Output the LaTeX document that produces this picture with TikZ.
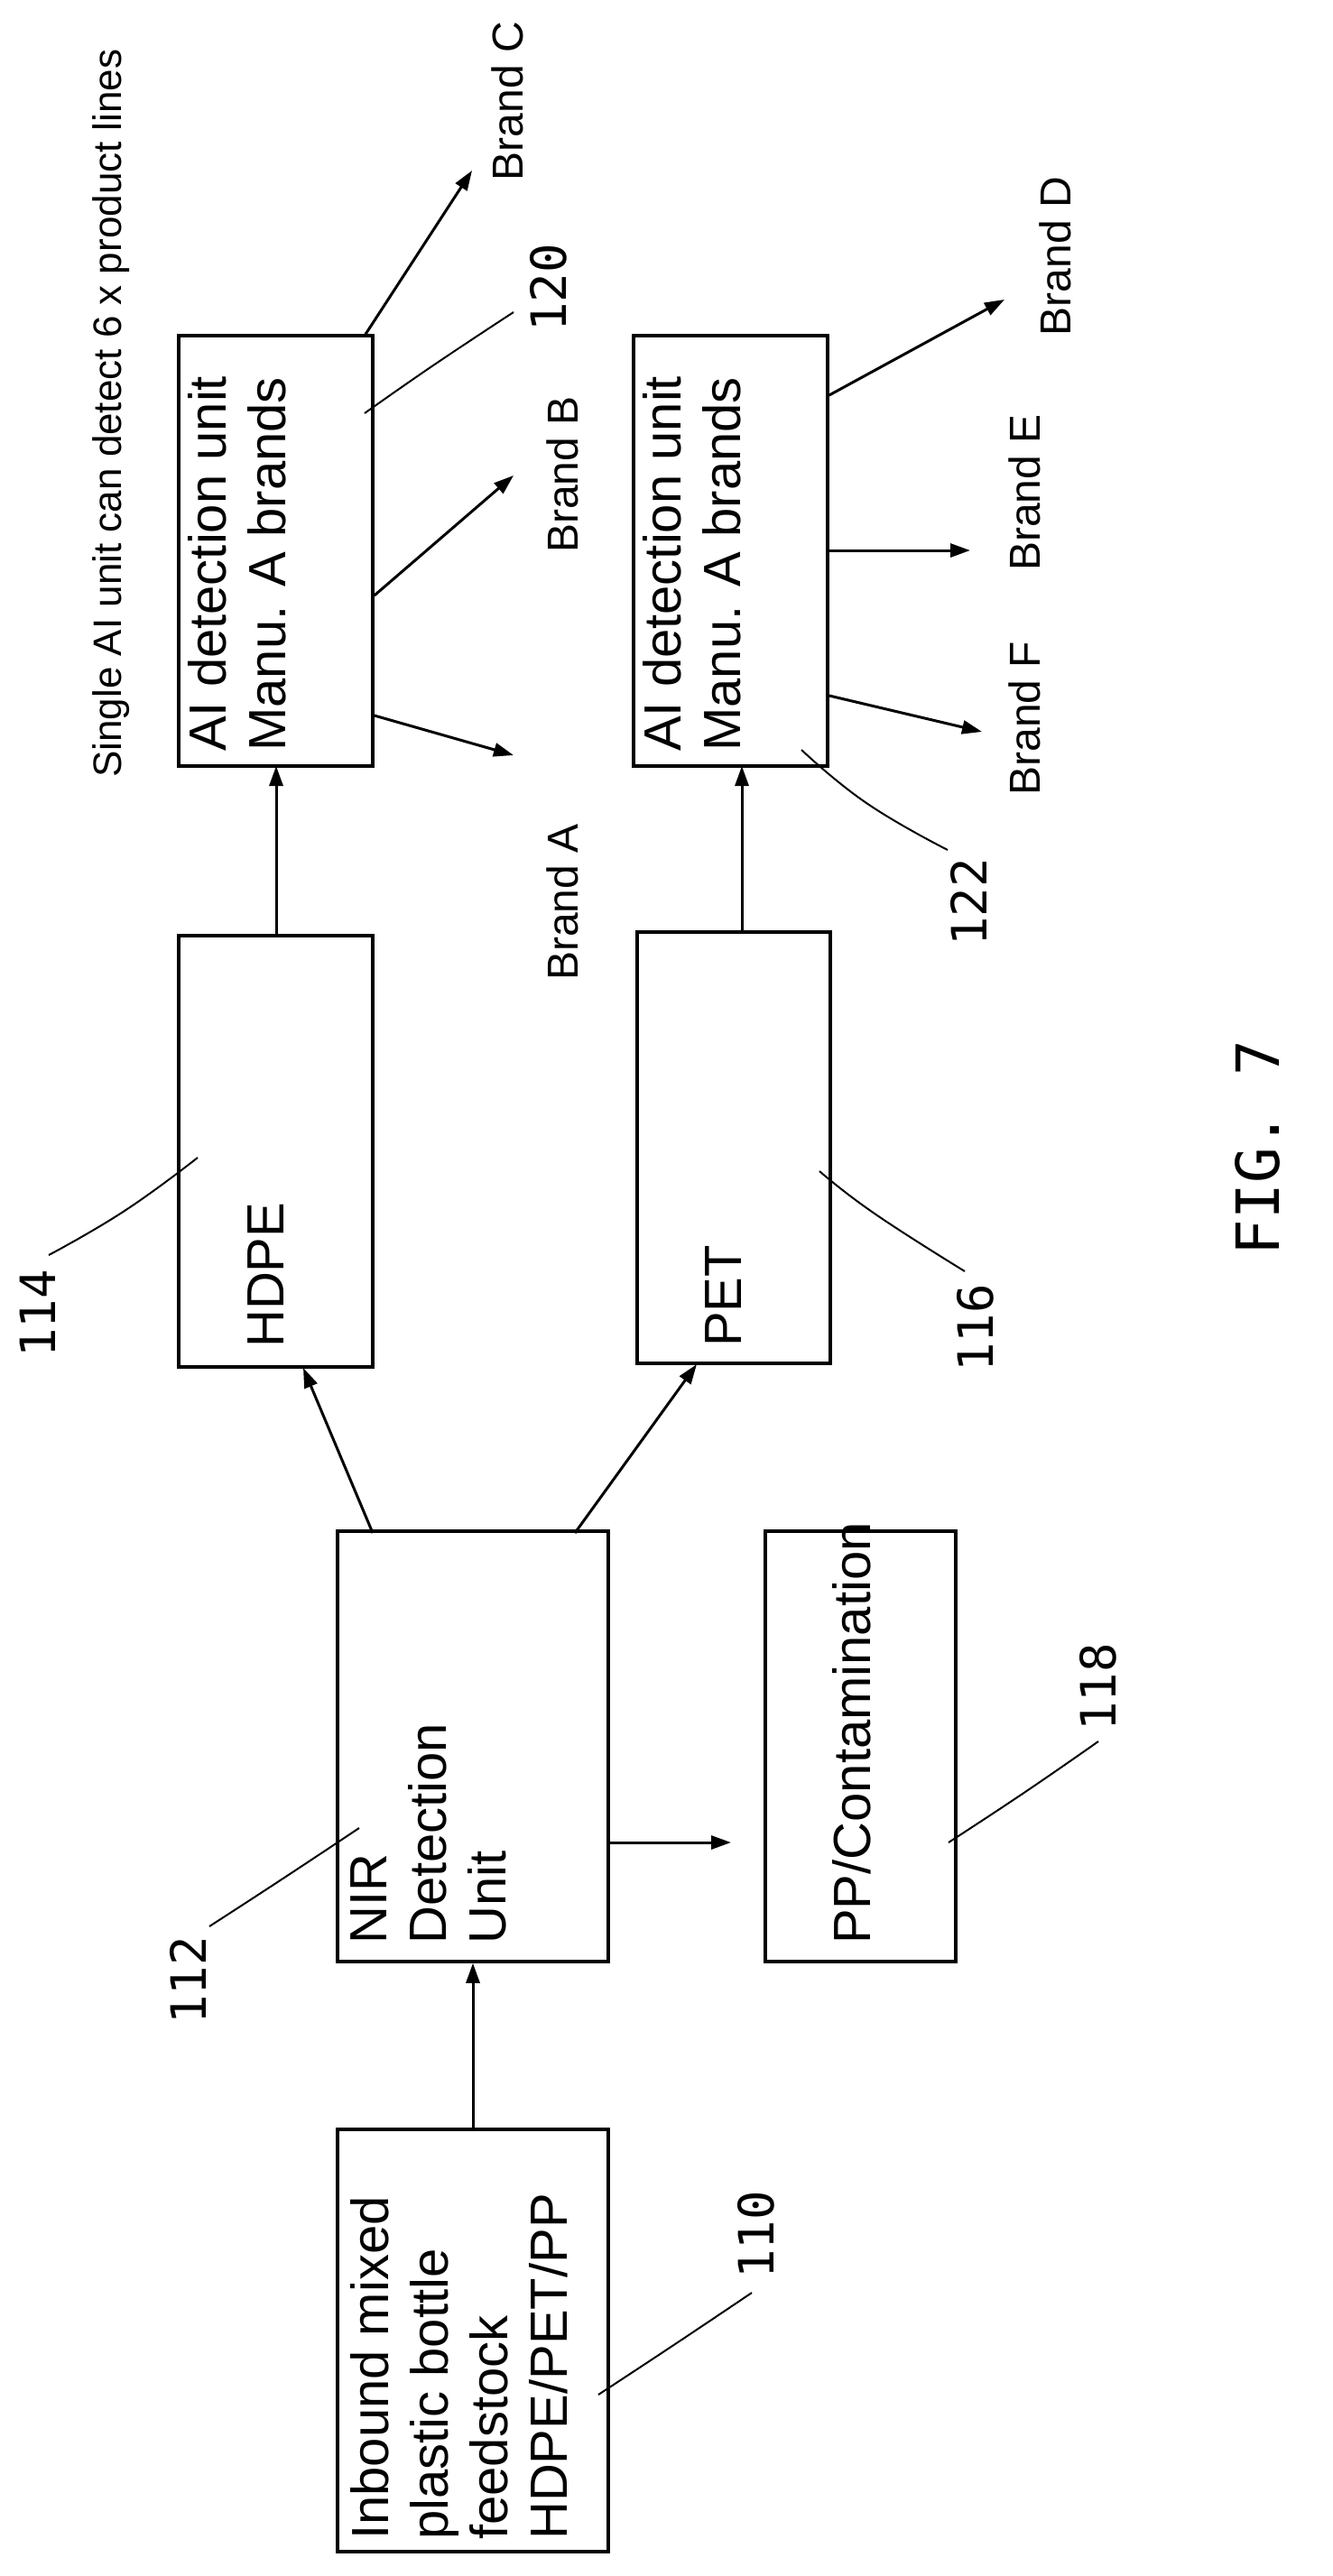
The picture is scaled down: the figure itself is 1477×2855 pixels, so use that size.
\documentclass[tikz,border=0pt]{standalone}
\usepackage{fontspec}
\setmainfont{Liberation Sans}
\newfontfamily\numfont{DejaVu Sans Mono}
\usetikzlibrary{arrows.meta}
\begin{document}
\begin{tikzpicture}[x=1pt,y=-1pt,
  box/.style={draw,line width=3.5pt,inner sep=0,minimum width=#1},
  arr/.style={line width=3pt,-{Triangle[length=22pt,width=15pt]}},
  lead/.style={line width=2pt},
  txt/.style={rotate=90,inner sep=0,font=\fontsize{58}{66}\selectfont,align=left,anchor=north west},
  lbl/.style={rotate=90,inner sep=0,font=\fontsize{48}{56}\selectfont},
  num/.style={rotate=90,inner sep=0,font=\numfont\fontsize{54}{60}\selectfont}]
\useasboundingbox[fill=white] (0,0) rectangle (1477,2855);
% boxes
\node[box=300pt,minimum height=468pt] (b110) at (524,2594) {};
\node[box=300pt,minimum height=477pt] (b112) at (524,1935.5) {};
\node[box=211pt,minimum height=477pt] (b118) at (953.5,1935.5) {};
\node[box=215pt,minimum height=478pt] (b114) at (305.5,1276) {};
\node[box=214pt,minimum height=478pt] (b116) at (813,1272) {};
\node[box=215pt,minimum height=477pt] (b120) at (305.5,610.5) {};
\node[box=215pt,minimum height=477pt] (b122) at (809.5,610.5) {};
% box texts
\node[txt] (t110) at (388,2815) {Inbound mixed\\plastic bottle\\feedstock\\HDPE/PET/PP};
\node[txt] (t112) at (388,2155) {NIR\\Detection\\Unit};
\node[txt] (t118) at (922,2155) {PP/Contamination};
\node[txt] (t114) at (274,1494) {HDPE};
\node[txt] (t116) at (781,1493) {PET};
\node[txt] (t120) at (208,833) {AI detection unit\\Manu. A brands};
\node[txt] (t122) at (712,833) {AI detection unit\\Manu. A brands};
% labels
\node[rotate=90,inner sep=0,font=\fontsize{44}{50}\selectfont] (title) at (123,458) {Single AI unit can detect 6 x product lines};
\node[lbl] (bc) at (562,112) {Brand C};
\node[lbl] (bb) at (623,526) {Brand B};
\node[lbl] (ba) at (623,1000) {Brand A};
\node[lbl] (bd) at (1169,284) {Brand D};
\node[lbl] (be) at (1135,546) {Brand E};
\node[lbl] (bf) at (1135,796) {Brand F};
% arrows
\draw[arr] (b110.north) -- (b112.south);
\coordinate (e118) at (810,2042);
\draw[arr] (b112.east |- e118) -- (e118);
\draw[arr] (413,1699) -- (336,1516);
\draw[arr] (637,1699) -- (772,1512);
\draw[arr] (306,1037) -- (306,849);
\draw[arr] (822,1033) -- (822,849);
\coordinate (ec) at (523,189); \coordinate (eb) at (569,527); \coordinate (ea) at (569,837);
\coordinate (ed) at (1113,332); \coordinate (ee) at (1075,610); \coordinate (ef) at (1088,811);
\draw[arr] (404,372) -- (ec);
\draw[arr] (b120.east |- 0,660) -- (eb);
\draw[arr] (b120.east |- 0,793) -- (ea);
\draw[arr] (b122.east |- 0,438) -- (ed);
\draw[arr] (b122.east |- 0,610) -- (ee);
\draw[arr] (b122.east |- 0,771) -- (ef);
% reference numerals
\node[num] (n110) at (838,2477) {110};
\node[num] (n112) at (208,2195) {112};
\node[num] (n114) at (42,1456) {114};
\node[num] (n116) at (1081,1472) {116};
\node[num] (n118) at (1217,1870) {118};
\node[num] (n120) at (608,319) {120};
\node[num] (n122) at (1073,1000) {122};
\node[rotate=90,inner sep=0,font=\numfont\fontsize{66}{70}\selectfont] (fig) at (1393,1272) {FIG. 7};
% leaders
\draw[lead] plot[smooth,tension=0.8] coordinates {(833,2541) (748,2598) (663,2654)};
\draw[lead] plot[smooth,tension=0.8] coordinates {(232,2135) (312,2083) (398,2026)};
\draw[lead] plot[smooth,tension=0.8] coordinates {(54,1391) (138,1342) (219,1283)};
\draw[lead] plot[smooth,tension=0.8] coordinates {(1069,1409) (969,1345) (908,1298)};
\draw[lead] plot[smooth,tension=0.8] coordinates {(1217,1930) (1136,1986) (1051,2042)};
\draw[lead] plot[smooth,tension=0.8] coordinates {(569,346) (480,405) (404,458)};
\draw[lead] plot[smooth,tension=0.8] coordinates {(1050,942) (960,890) (888,831)};
\end{tikzpicture}
\end{document}
